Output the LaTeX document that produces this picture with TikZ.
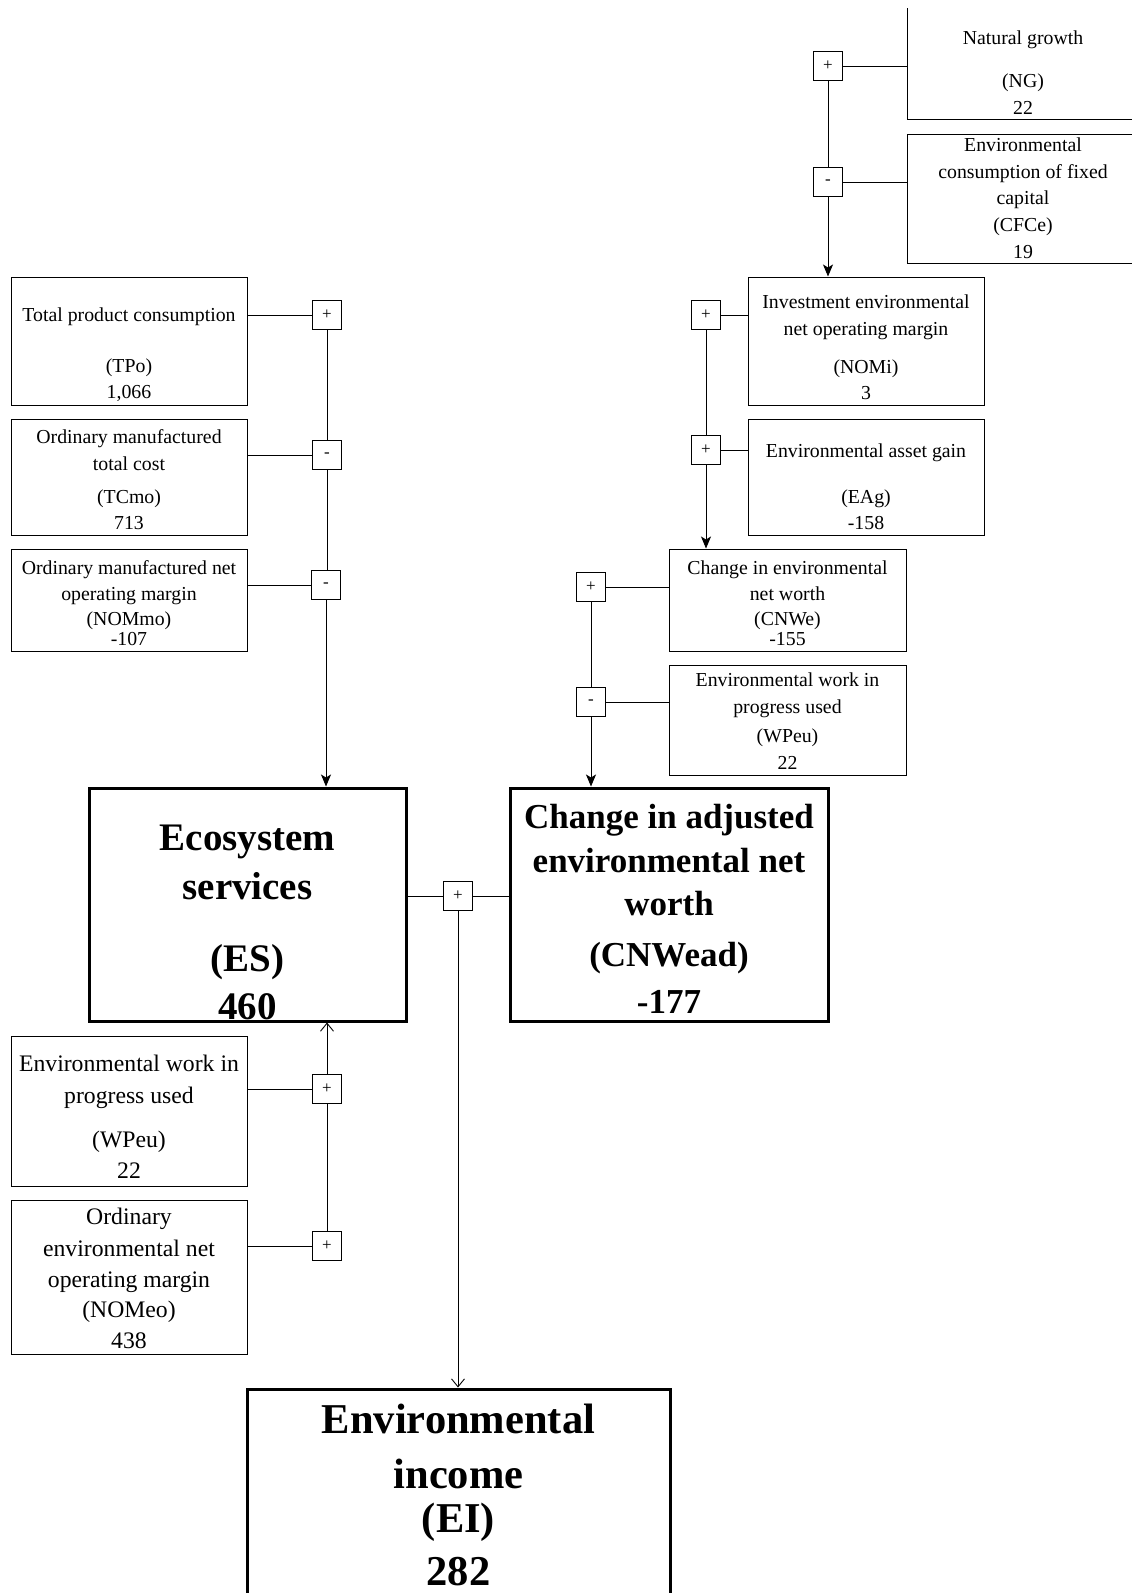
\documentclass[tikz,border=0pt]{standalone}
\usepackage{fontspec}
\setmainfont{Liberation Serif}
\usetikzlibrary{arrows.meta}
\newcommand\boxlines[3]{%
  \foreach \off/\txt [count=\i] in {#3}
    \node[#2, anchor=base, inner sep=0pt] (#1-\i) at ([yshift=-\off pt]#1.north) {\txt};}
\begin{document}
\begin{tikzpicture}[x=1pt,y=-1pt,
  box/.style={draw, line width=1pt, inner sep=0pt},
  bigbox/.style={draw, line width=3pt, inner sep=0pt},
  sign/.style={draw, line width=0.9pt, minimum width=29pt, minimum height=29pt, inner sep=0pt, font=\fontsize{17}{17}\selectfont},
  sm/.style={font=\fontsize{19.8}{24}\selectfont},
  md/.style={font=\fontsize{23.7}{28}\selectfont},
  bigA/.style={font=\fontsize{39}{44}\selectfont\bfseries},
  bigB/.style={font=\fontsize{35}{40}\selectfont\bfseries},
  bigC/.style={font=\fontsize{42.5}{48}\selectfont\bfseries},
  ln/.style={draw, line width=0.9pt},
  arr/.style={draw, line width=0.9pt, -{Stealth[length=12pt,width=10pt,inset=3pt]}},
  arrb/.style={draw, line width=0.9pt, -{Straight Barb[length=8pt,width=13pt]}}]
\useasboundingbox (0,0) rectangle (1132,1593);
\clip (0,8) rectangle (1132,1593);

% boxes
\node[box, minimum width=232pt, minimum height=139pt] (ng) at (1023,49.5) {};
\node[box, minimum width=232pt, minimum height=129pt] (cfce) at (1023,198.5) {};
\node[box, minimum width=236pt, minimum height=128pt] (tpo) at (129,341) {};
\node[box, minimum width=236pt, minimum height=116pt] (tcmo) at (129,477) {};
\node[box, minimum width=236pt, minimum height=102pt] (nommo) at (129,600) {};
\node[box, minimum width=236pt, minimum height=128pt] (nomi) at (866,341) {};
\node[box, minimum width=236pt, minimum height=116pt] (eag) at (866,477) {};
\node[box, minimum width=237pt, minimum height=102pt] (cnwe) at (787.5,600) {};
\node[box, minimum width=237pt, minimum height=110pt] (wpeur) at (787.5,720) {};
\node[bigbox, minimum width=317pt, minimum height=233pt] (es) at (247.5,904.5) {};
\node[bigbox, minimum width=318pt, minimum height=233pt] (cnwead) at (669,904.5) {};
\node[box, minimum width=236pt, minimum height=150pt] (wpeul) at (129,1111) {};
\node[box, minimum width=236pt, minimum height=154pt] (nomeo) at (129,1277) {};
\node[bigbox, minimum width=423pt, minimum height=231pt] (ei) at (458.5,1504.5) {};

% texts
\boxlines{ng}{sm}{65/Natural growth, 108/(NG), 135/22}
\boxlines{cfce}{sm}{18/Environmental, 45/consumption of fixed, 71/capital, 98/(CFCe), 125/19}
\boxlines{tpo}{sm}{45/Total product consumption, 96/(TPo), 122/{1,066}}
\boxlines{tcmo}{sm}{25/Ordinary manufactured, 52/total cost, 85/(TCmo), 111/713}
\boxlines{nommo}{sm}{26/Ordinary manufactured net, 52/operating margin, 77/(NOMmo), 97/-107}
\boxlines{nomi}{sm}{32/Investment environmental, 59/net operating margin, 97/(NOMi), 123/3}
\boxlines{eag}{sm}{39/Environmental asset gain, 85/(EAg), 111/-158}
\boxlines{cnwe}{sm}{26/Change in environmental, 52/net worth, 77/(CNWe), 97/-155}
\boxlines{wpeur}{sm}{22/Environmental work in, 49/progress used, 78/(WPeu), 105/22}
\boxlines{wpeul}{md}{36/Environmental work in, 68/progress used, 112/(WPeu), 143/22}
\boxlines{nomeo}{md}{25/Ordinary, 57/environmental net, 88/operating margin, 118/(NOMeo), 149/438}
\boxlines{es}{bigA}{64/Ecosystem, 113/services, 185/(ES), 233/460}
\boxlines{cnwead}{bigB}{42/Change in adjusted, 86/environmental net, 129/worth, 180/(CNWead), 227/-177}
\boxlines{ei}{bigC}{46/Environmental, 101/income, 145/(EI), 198/282}

% sign boxes
\node[sign] (s1) at (828,66) {+};
\node[sign] (s2) at (828,182) {-};
\node[sign] (s3) at (706,315) {+};
\node[sign] (s4) at (706,450) {+};
\node[sign] (s5) at (591,587) {+};
\node[sign] (s6) at (591,702) {-};
\node[sign] (s7) at (327,315) {+};
\node[sign] (s8) at (327,455) {-};
\node[sign] (s9) at (326,585) {-};
\node[sign] (s10) at (458,896) {+};
\node[sign] (s11) at (327,1089) {+};
\node[sign] (s12) at (327,1246) {+};

% connectors
\draw[ln] (s1.east) -- (s1.east -| ng.west);
\draw[ln] (s2.east) -- (s2.east -| cfce.west);
\draw[ln] (s1.south) -- (s2.north);
\draw[arr] (s2.south) -- (s2.south |- nomi.north);

\draw[ln] (s3.east) -- (s3.east -| nomi.west);
\draw[ln] (s4.east) -- (s4.east -| eag.west);
\draw[ln] (s3.south) -- (s4.north);
\draw[arr] (s4.south) -- (s4.south |- cnwe.north);

\draw[ln] (s5.east) -- (s5.east -| cnwe.west);
\draw[ln] (s6.east) -- (s6.east -| wpeur.west);
\draw[ln] (s5.south) -- (s6.north);
\draw[arr] (s6.south) -- (s6.south |- cnwead.north);

\draw[ln] (s7.west) -- (s7.west -| tpo.east);
\draw[ln] (s8.west) -- (s8.west -| tcmo.east);
\draw[ln] (s9.west) -- (s9.west -| nommo.east);
\draw[ln] (s7.south) -- (s8.north);
\draw[ln] (s8.south) -- (s9.north -| s8.south);
\draw[arr] (s9.south) -- (s9.south |- es.north);

\draw[ln] (s11.west) -- (s11.west -| wpeul.east);
\draw[ln] (s12.west) -- (s12.west -| nomeo.east);
\draw[ln] (s12.north) -- (s11.south);
\draw[arrb] (s11.north) -- (s11.north |- es.south);

\draw[ln] (s10.west) -- (s10.west -| es.east);
\draw[ln] (s10.east) -- (s10.east -| cnwead.west);
\draw[arrb] (s10.south) -- (s10.south |- ei.north);
\end{tikzpicture}
\end{document}
